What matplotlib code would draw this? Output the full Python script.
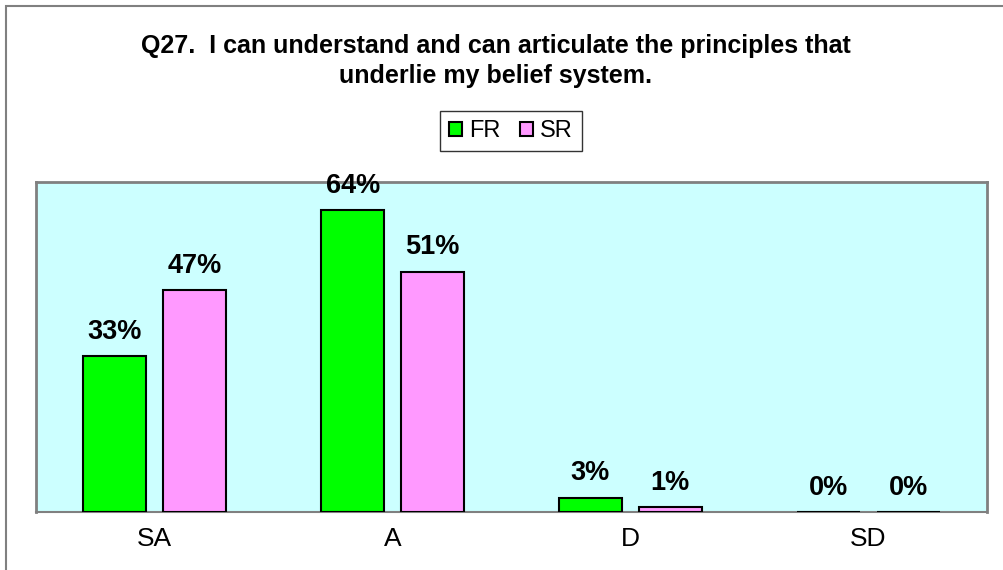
import numpy as np
import matplotlib.pyplot as plt
from matplotlib.patches import Rectangle

plt.rcParams['font.family'] = ['Liberation Sans', 'DejaVu Sans']

categories = ['SA', 'A', 'D', 'SD']
fr_values = [33, 64, 3, 0]
sr_values = [47, 51, 1, 0]
series_names = ['FR', 'SR']
title_lines = ['Q27.  I can understand and can articulate the principles that',
               'underlie my belief system.']

FR_COLOR = '#00FF00'
SR_COLOR = '#FF99FF'
BG_COLOR = '#CCFFFF'

W, H = 1004, 570
fig = plt.figure(figsize=(W / 100, H / 100), dpi=100)

# outer chart frame
fig.patches.append(Rectangle((6 / W, -0.01), 1.05, 1 - 6 / H + 0.01,
                             transform=fig.transFigure, fill=False,
                             edgecolor='#808080', linewidth=1.5))

ax = fig.add_axes([36 / W, 1 - 512 / H, (987 - 36) / W, (512 - 182) / H])
ax.set_facecolor(BG_COLOR)

x = np.arange(len(categories))
bw = 0.265
off = 0.168
bars_fr = ax.bar(x - off, fr_values, bw, color=FR_COLOR, edgecolor='black',
                 linewidth=1.5, label=series_names[0], zorder=3)
bars_sr = ax.bar(x + off, sr_values, bw, color=SR_COLOR, edgecolor='black',
                 linewidth=1.5, label=series_names[1], zorder=3)

for bars, vals in ((bars_fr, fr_values), (bars_sr, sr_values)):
    for b, v in zip(bars, vals):
        ax.annotate(f'{v}%', (b.get_x() + b.get_width() / 2, v),
                    xytext=(0, 12.5), textcoords='offset points',
                    ha='center', va='baseline', fontsize=19.5, fontweight='bold',
                    annotation_clip=False)

ax.set_xlim(-0.5, len(categories) - 0.5)
ax.set_ylim(0, 70)
ax.set_yticks([])
ax.set_xticks(x)
ax.set_xticklabels(categories, fontsize=19)
ax.tick_params(axis='x', length=0, pad=11)
for side in ('top', 'right', 'left'):
    ax.spines[side].set_color('#808080')
    ax.spines[side].set_linewidth(2)
ax.spines['bottom'].set_color('#808080')
ax.spines['bottom'].set_linewidth(1.5)

for i, line in enumerate(title_lines):
    fig.text(0.494, 1 - (53 + 30 * i) / H, line, ha='center', va='baseline',
             fontsize=18, fontweight='bold')

leg = fig.legend(handles=[bars_fr, bars_sr], loc='center',
                 bbox_to_anchor=(511 / W, 1 - 131 / H), ncol=2, fontsize=17,
                 frameon=True, fancybox=False, edgecolor='black',
                 handlelength=0.55, handleheight=0.55, handletextpad=0.3,
                 columnspacing=0.8, borderpad=0.4)
leg.get_frame().set_linewidth(1)

fig.savefig('out.png', dpi=100)
